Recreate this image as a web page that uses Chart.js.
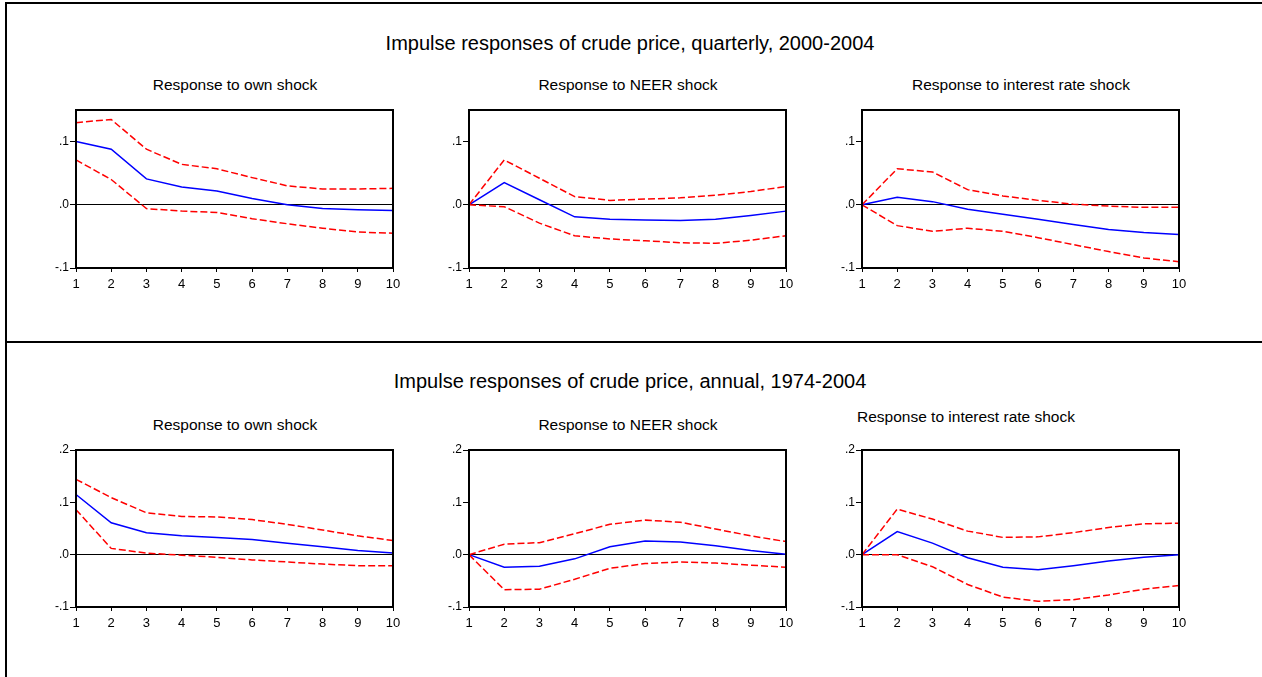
<!DOCTYPE html>
<html>
<head>
<meta charset="utf-8">
<script src="https://cdn.jsdelivr.net/npm/chart.js@4.4.1/dist/chart.umd.min.js"></script>
<style>
  body { margin: 0; background: #fff; font-family: "Liberation Sans", Arial, sans-serif; }
  #page { position: relative; width: 1262px; height: 677px; overflow: hidden; }
  .rule { position: absolute; background: #000; }
  .title { position: absolute; font-size: 20px; color: #000; white-space: nowrap; transform: translate(-50%, -50%); }
  .sub { position: absolute; font-size: 15.5px; color: #000; white-space: nowrap; transform: translate(-50%, -50%); }
  .sub.left { transform: translate(0, -50%); }
  canvas { position: absolute; }
</style>
</head>
<body>
<div id="page">
  <div class="rule" style="left:5px;top:2px;width:2px;height:675px"></div>
  <div class="rule" style="left:5px;top:2px;width:1257px;height:2px"></div>
  <div class="rule" style="left:5px;top:341px;width:1257px;height:2px"></div>

  <div class="title" style="left:630px;top:43px">Impulse responses of crude price, quarterly, 2000-2004</div>
  <div class="sub" style="left:235px;top:85px">Response to own shock</div>
  <div class="sub" style="left:628px;top:85px">Response to NEER shock</div>
  <div class="sub" style="left:1021px;top:85px">Response to interest rate shock</div>

  <div class="title" style="left:630px;top:381px">Impulse responses of crude price, annual, 1974-2004</div>
  <div class="sub" style="left:235px;top:425px">Response to own shock</div>
  <div class="sub" style="left:628px;top:425px">Response to NEER shock</div>
  <div class="sub left" style="left:857px;top:417px">Response to interest rate shock</div>

  <canvas id="c1" width="370" height="196" style="left:31px;top:102px"></canvas>
  <canvas id="c2" width="370" height="196" style="left:424px;top:102px"></canvas>
  <canvas id="c3" width="370" height="196" style="left:817px;top:102px"></canvas>
  <canvas id="c4" width="370" height="195" style="left:31px;top:442px"></canvas>
  <canvas id="c5" width="370" height="195" style="left:424px;top:442px"></canvas>
  <canvas id="c6" width="370" height="195" style="left:817px;top:442px"></canvas>
</div>
<script>
const horizons = ['1', '2', '3', '4', '5', '6', '7', '8', '9', '10'];

// quarterly, 2000-2004
const qOwnResp  = [0.100, 0.088, 0.041, 0.028, 0.022, 0.010, 0.000, -0.006, -0.008, -0.009];
const qOwnUpper = [0.130, 0.135, 0.088, 0.064, 0.057, 0.043, 0.030, 0.025, 0.025, 0.026];
const qOwnLower = [0.071, 0.040, -0.006, -0.010, -0.012, -0.022, -0.030, -0.037, -0.043, -0.045];

const qNeerResp  = [0, 0.035, 0.008, -0.019, -0.023, -0.024, -0.025, -0.023, -0.017, -0.010];
const qNeerUpper = [0, 0.071, 0.042, 0.013, 0.007, 0.009, 0.011, 0.015, 0.021, 0.029];
const qNeerLower = [0, -0.003, -0.029, -0.049, -0.054, -0.057, -0.060, -0.061, -0.056, -0.049];

const qRateResp  = [0, 0.012, 0.005, -0.007, -0.015, -0.023, -0.031, -0.039, -0.044, -0.047];
const qRateUpper = [0, 0.057, 0.052, 0.024, 0.014, 0.007, 0.001, -0.002, -0.004, -0.004];
const qRateLower = [0, -0.033, -0.042, -0.037, -0.042, -0.052, -0.063, -0.074, -0.084, -0.090];

// annual, 1974-2004
const aOwnResp  = [0.115, 0.061, 0.042, 0.036, 0.033, 0.029, 0.022, 0.015, 0.008, 0.003];
const aOwnUpper = [0.144, 0.109, 0.080, 0.073, 0.072, 0.067, 0.058, 0.047, 0.036, 0.027];
const aOwnLower = [0.086, 0.012, 0.003, -0.001, -0.005, -0.010, -0.014, -0.018, -0.021, -0.021];

const aNeerResp  = [0, -0.024, -0.022, -0.008, 0.015, 0.026, 0.024, 0.017, 0.008, 0.001];
const aNeerUpper = [0, 0.020, 0.023, 0.040, 0.058, 0.066, 0.062, 0.049, 0.036, 0.025];
const aNeerLower = [0, -0.067, -0.066, -0.047, -0.026, -0.017, -0.014, -0.016, -0.020, -0.024];

const aRateResp  = [0, 0.044, 0.022, -0.006, -0.024, -0.029, -0.021, -0.012, -0.005, 0.000];
const aRateUpper = [0, 0.087, 0.068, 0.045, 0.033, 0.034, 0.042, 0.052, 0.059, 0.060];
const aRateLower = [0, 0.000, -0.023, -0.057, -0.081, -0.089, -0.086, -0.077, -0.066, -0.059];

const FONT = '"Liberation Sans", Arial, sans-serif';

const framePlugin = {
  id: 'frame',
  afterDraw(chart) {
    const { ctx, chartArea: a } = chart;
    ctx.save();
    ctx.strokeStyle = '#000';
    ctx.lineWidth = 2;
    ctx.strokeRect(a.left, a.top, a.right - a.left, a.bottom - a.top);
    ctx.restore();
  }
};

function tickLabel(v) {
  const n = Math.round(v * 10);
  if (n === 0) return '.0';
  return (n < 0 ? '-' : '') + '.' + Math.abs(n);
}

function makeChart(id, resp, upper, lower, yMax) {
  const dashed = { borderColor: '#ff0000', borderWidth: 1.5, borderDash: [7, 3], pointRadius: 0, fill: false, tension: 0 };
  new Chart(document.getElementById(id), {
    type: 'line',
    data: {
      labels: horizons,
      datasets: [
        { label: 'upper', data: upper, ...dashed },
        { label: 'lower', data: lower, ...dashed },
        { label: 'response', data: resp, borderColor: '#0000ff', borderWidth: 1.5, pointRadius: 0, fill: false, tension: 0 }
      ]
    },
    options: {
      responsive: false,
      animation: false,
      layout: { padding: { top: 8, right: 8, left: 0, bottom: 0 } },
      plugins: { legend: { display: false }, tooltip: { enabled: false } },
      scales: {
        x: {
          type: 'category',
          offset: false,
          border: { display: false },
          grid: { offset: false, drawOnChartArea: false, tickColor: '#000', tickLength: 4, lineWidth: 1 },
          ticks: { color: '#000', font: { family: FONT, size: 13 }, padding: 5, maxRotation: 0, autoSkip: false },
          afterFit(s) { s.height = 30; s.paddingLeft = 0; s.paddingRight = 0; }
        },
        y: {
          min: -0.1,
          max: yMax,
          border: { display: false },
          grid: {
            color: c => Math.abs(c.tick.value) < 1e-9 ? '#000' : 'rgba(0,0,0,0)',
            tickColor: '#000',
            tickLength: 6,
            lineWidth: 1
          },
          ticks: { stepSize: 0.1, includeBounds: false, color: '#000', font: { family: FONT, size: 12 }, padding: 1, callback: tickLabel },
          afterFit(s) { s.width = 45; s.paddingTop = 0; s.paddingBottom = 0; }
        }
      }
    },
    plugins: [framePlugin]
  });
}

makeChart('c1', qOwnResp, qOwnUpper, qOwnLower, 0.15);
makeChart('c2', qNeerResp, qNeerUpper, qNeerLower, 0.15);
makeChart('c3', qRateResp, qRateUpper, qRateLower, 0.15);
makeChart('c4', aOwnResp, aOwnUpper, aOwnLower, 0.2);
makeChart('c5', aNeerResp, aNeerUpper, aNeerLower, 0.2);
makeChart('c6', aRateResp, aRateUpper, aRateLower, 0.2);
</script>
</body>
</html>
